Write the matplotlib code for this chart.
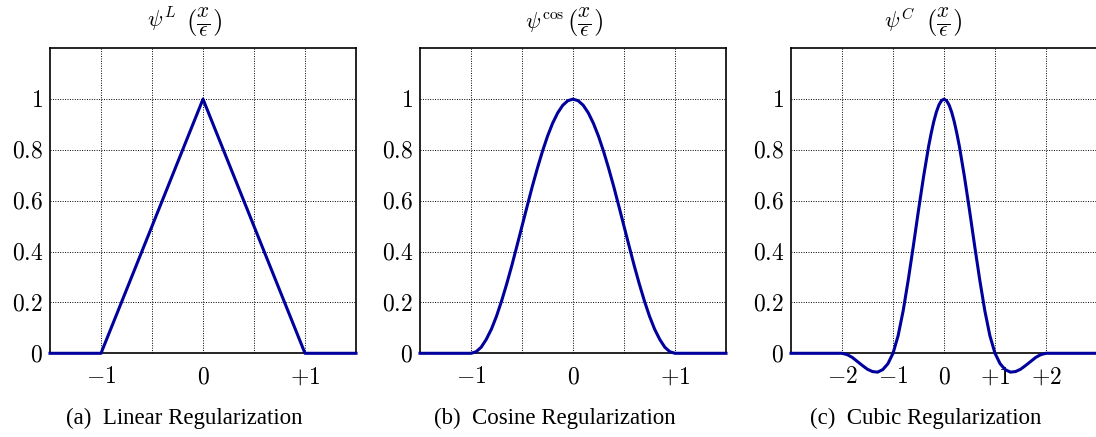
import matplotlib
matplotlib.use("Agg")
import matplotlib.pyplot as plt

plt.rcParams['mathtext.fontset'] = 'cm'
plt.rcParams['font.family'] = ['Liberation Serif', 'DejaVu Serif']

# --- data -------------------------------------------------------------
lin_x = [-1.5, -1.0, 0.0, 1.0, 1.5]
lin_y = [0.0, 0.0, 1.0, 0.0, 0.0]

cos_x = [-1.5, -1.0, -0.95, -0.9, -0.85, -0.8, -0.75, -0.7, -0.65, -0.6, -0.55,
         -0.5, -0.45, -0.4, -0.35, -0.3, -0.25, -0.2, -0.15, -0.1, -0.05,
         0.0, 0.05, 0.1, 0.15, 0.2, 0.25, 0.3, 0.35, 0.4, 0.45,
         0.5, 0.55, 0.6, 0.65, 0.7, 0.75, 0.8, 0.85, 0.9, 0.95, 1.0, 1.5]
cos_y = [0.0, 0.0, 0.006, 0.024, 0.055, 0.095, 0.146, 0.206, 0.273, 0.345, 0.422,
         0.5, 0.578, 0.655, 0.727, 0.794, 0.854, 0.905, 0.946, 0.976, 0.994,
         1.0, 0.994, 0.976, 0.946, 0.905, 0.854, 0.794, 0.727, 0.655, 0.578,
         0.5, 0.422, 0.345, 0.273, 0.206, 0.146, 0.095, 0.055, 0.024, 0.006, 0.0, 0.0]

cub_x = [-3.0, -2.0, -1.9, -1.8, -1.7, -1.6, -1.5, -1.4, -1.3, -1.2, -1.1,
         -1.0, -0.9, -0.8, -0.7, -0.6, -0.5, -0.4, -0.3, -0.25, -0.2, -0.15, -0.1, -0.05,
         0.0, 0.05, 0.1, 0.15, 0.2, 0.25, 0.3, 0.4, 0.5, 0.6, 0.7, 0.8, 0.9,
         1.0, 1.1, 1.2, 1.3, 1.4, 1.5, 1.6, 1.7, 1.8, 1.9, 2.0, 3.0]
cub_y = [0.0, 0.0, -0.005, -0.016, -0.032, -0.048, -0.063, -0.072, -0.074, -0.064, -0.041,
         0.0, 0.069, 0.168, 0.290, 0.424, 0.563, 0.696, 0.816, 0.867, 0.912, 0.949, 0.977, 0.994,
         1.0, 0.994, 0.977, 0.949, 0.912, 0.867, 0.816, 0.696, 0.563, 0.424, 0.290, 0.168, 0.069,
         0.0, -0.041, -0.064, -0.074, -0.072, -0.063, -0.048, -0.032, -0.016, -0.005, 0.0, 0.0]

y_ticks = [0, 0.2, 0.4, 0.6, 0.8, 1.0]
y_labels = [r'$0$', r'$0.2$', r'$0.4$', r'$0.6$', r'$0.8$', r'$1$']

ab_ticks = [-1, -0.5, 0, 0.5, 1]
ab_labels = [r'$-1$', '', r'$0$', '', r'$+1$']
c_ticks = [-2, -1, 0, 1, 2]
c_labels = [r'$-2$', r'$-1$', r'$0$', r'$+1$', r'$+2$']

title_heads = [r'$\psi^{L}$', r'$\psi^{\cos}$', r'$\psi^{C}$']
title_arg = r'$\left(\frac{x}{\epsilon}\right)$'
captions = ['(a)  Linear Regularization', '(b)  Cosine Regularization', '(c)  Cubic Regularization']

# --- figure -----------------------------------------------------------
W, H = 1096, 437
fig = plt.figure(figsize=(W / 100, H / 100), dpi=100)

lefts = [50, 420, 791]
head_right = [176, 564, 915]
arg_left = [186, 567, 926]
caption_cx = [184, 555, 926]
panels = [(lin_x, lin_y, (-1.5, 1.5), ab_ticks, ab_labels),
          (cos_x, cos_y, (-1.5, 1.5), ab_ticks, ab_labels),
          (cub_x, cub_y, (-3, 3), c_ticks, c_labels)]
line_color = '#00009c'

for i, (xs, ys, xlim, xt, xl) in enumerate(panels):
    ax = fig.add_axes([lefts[i] / W, (H - 353.3) / H, 306 / W, 305 / H])
    ax.set_xlim(*xlim)
    ax.set_ylim(0, 1.2)
    ax.set_xticks(xt)
    ax.set_xticklabels(xl)
    ax.set_yticks(y_ticks)
    ax.set_yticklabels(y_labels)
    ax.tick_params(length=0, labelsize=17)
    ax.tick_params(axis='x', pad=10)
    ax.tick_params(axis='y', pad=5)
    ax.grid(True, color='black', linestyle=(0, (1, 1.5)), linewidth=0.7)
    for s in ax.spines.values():
        s.set_linewidth(1.2)
    ax.plot(xs, ys, color=line_color, linewidth=2.2, clip_on=False, zorder=5)

    fig.text(head_right[i] / W, 1 - 28 / H, title_heads[i], ha='right', va='baseline', fontsize=16)
    fig.text(arg_left[i] / W, 1 - 22.5 / H, title_arg, ha='left', va='center', fontsize=22)
    fig.text(caption_cx[i] / W, 19 / H, captions[i], ha='center', va='center', fontsize=16.5)

fig.savefig('out.png', dpi=100)
